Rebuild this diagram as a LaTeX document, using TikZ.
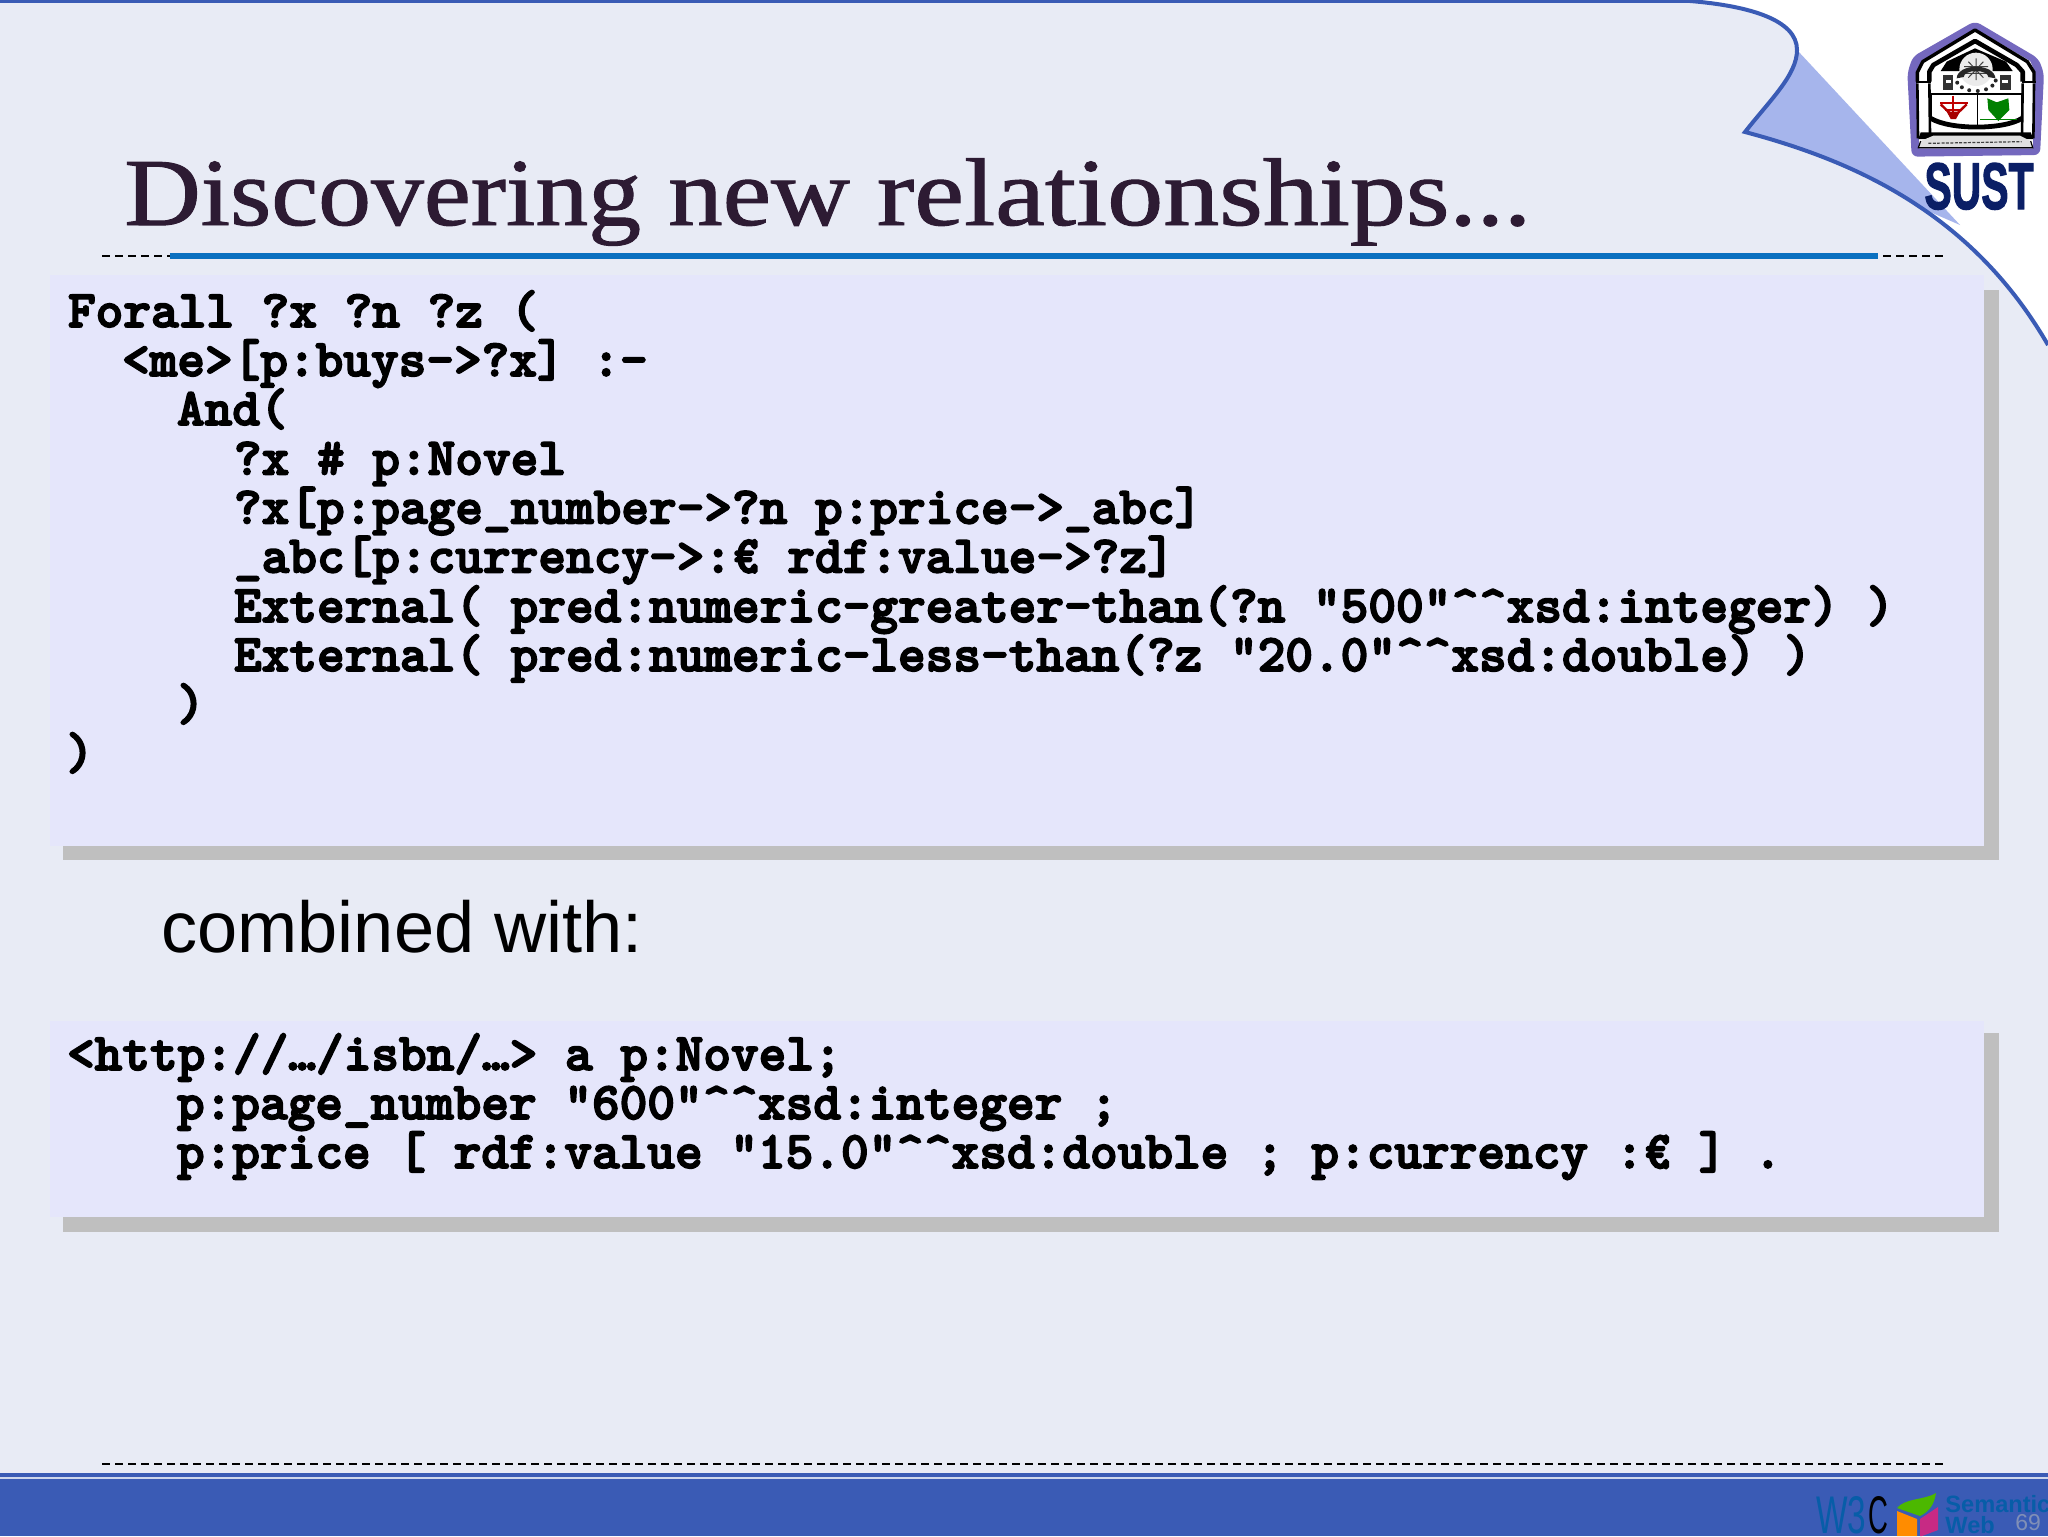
\documentclass[tikz,border=0pt]{standalone}
\usepackage{fontspec}
\setmainfont{Liberation Serif}
\newfontfamily\titlef[FakeBold=1]{Liberation Serif}
\newfontfamily\arialf{Liberation Sans}
\newfontfamily\sustf[FakeBold=2]{Liberation Sans Bold}
\newfontfamily\codef[BoldFeatures={FakeBold=3.2}]{Latin Modern Mono Light}
\usetikzlibrary{calc}
\definecolor{pagebg}{HTML}{E8EBF5}
\definecolor{boxbg}{HTML}{E5E6FB}
\definecolor{shadowg}{HTML}{BFBFBF}
\definecolor{flap}{HTML}{A6B5EC}
\definecolor{barblue}{HTML}{3A5BB5}
\definecolor{rule}{HTML}{0A70C0}
\definecolor{titlec}{HTML}{2D1B33}
\definecolor{navy}{HTML}{0B1F66}
\definecolor{lpurple}{HTML}{7468BE}
\definecolor{wblue}{HTML}{075DA8}
\tikzset{
  codeline/.style={anchor=base west,inner sep=0pt,outer sep=0pt,font=\codef\bfseries\fontsize{26.35}{30}\selectfont,text=black},
  boxfill/.style={fill=boxbg,draw=none},
  shadowfill/.style={fill=shadowg,draw=none},
  dashrule/.style={draw=black,line width=0.7pt,dash pattern=on 4pt off 2.5pt}
}
\newcommand{\cc}{\textasciicircum\textasciicircum}
\begin{document}
\begin{tikzpicture}[x=0.5pt,y=-0.5pt]
\useasboundingbox (0,0) rectangle (2048,1536);
\fill[white] (0,0) rectangle (2048,1536);
% flap
\fill[flap] (1797,50) -- (1960,225) -- (1745,132) -- cycle;
% logo (coordinates are those of a 3x crop)
\begin{scope}[shift={(1900,15)},x=0.16667pt,y=-0.16667pt]
  \fill[lpurple,rounded corners=3pt] (225,18) -- (415,130) -- (432,175) -- (420,420) -- (35,425) -- (22,175) -- (38,125) -- cycle;
  \fill[white] (225,42) -- (390,138) -- (405,172) -- (398,400) -- (58,400) -- (50,172) -- (65,138) -- cycle;
  % arches
  \draw[black,line width=1.7pt,line join=round] (52,200) -- (52,172) -- (68,140) -- (225,45) -- (382,140) -- (402,172) -- (402,200);
  \draw[black,line width=2.3pt,line join=round] (88,200) -- (88,170) -- (100,150) -- (225,78) -- (350,150) -- (368,170) -- (368,200);
  \fill[black] (122,168) -- (140,140) -- (225,100) -- (318,140) -- (338,168) -- cycle;
  % columns
  \fill[black] (47,197) rectangle (92,205);
  \fill[black] (365,197) rectangle (407,205);
  \draw[black,line width=1.3pt] (52,205) -- (54,370) (88,205) -- (90,360) (368,205) -- (366,360) (402,205) -- (400,370);
  % dome
  \fill[white!92!black] (228,163) circle (50);
  \draw[black!75,line width=0.5pt] (192,155) -- (264,155) (188,165) -- (268,165) (195,175) -- (260,175) (228,130) -- (228,195) (205,140) -- (250,188) (250,140) -- (205,188);
  % gear
  \fill[black!85] (170,190) arc (180:360:58 and 35) -- (265,186) arc (0:-180:37 and 18) -- cycle;
  \foreach \ga in {200,225,250,275,300,325,350}
    \fill[black!85] ({228+60*cos(\ga+0)},{190-38*sin(\ga)}) circle (6);
  % towers
  \fill[black!80] (130,180) rectangle (160,226);
  \fill[black!80] (300,180) rectangle (332,226);
  \fill[white] (137,195) rectangle (153,205);
  \fill[white] (307,195) rectangle (325,205);
  % panels
  \draw[black,line width=1pt] (92,236) -- (368,236);
  \draw[black,line width=0.8pt] (232,236) -- (232,335);
  \draw[black,line width=2.4pt] (92,310) .. controls (150,345) and (310,345) .. (366,310);
  \draw[black,line width=0.8pt] (92,236) -- (92,310) (366,236) -- (366,310);
  % red emblem
  \draw[red!75!black,line width=0.9pt] (160,242) -- (160,312) (120,265) -- (205,265) (135,285) -- (185,285);
  \fill[red!65!black] (140,290) -- (180,290) -- (168,312) -- (152,312) -- cycle;
  \draw[red!70!black,line width=1.2pt] (122,268) -- (150,295) (200,268) -- (172,295);
  % green emblem
  \fill[green!50!black] (262,250) -- (290,262) -- (325,250) -- (328,285) -- (295,318) -- (265,285) -- cycle;
  \draw[green!50!black,line width=0.8pt] (240,314) -- (350,314);
  % banner
  \fill[black] (62,352) -- (392,352) -- (400,372) -- (55,372) -- cycle;
  \fill[black!12] (62,378) -- (100,362) -- (360,362) -- (392,378) -- (398,398) -- (55,398) -- cycle;
  \draw[black,line width=0.6pt] (62,378) -- (55,398) -- (398,398) -- (392,378);
  \draw[black!75,line width=0.6pt,dash pattern=on 1.5pt off 0.7pt] (85,385) -- (365,380);
\end{scope}
\node[anchor=base,inner sep=0pt,text=navy,font=\sustf\fontsize{33}{33}\selectfont,xscale=0.62] (sust) at (1979,209) {SUST};
% page background with curled corner
\fill[pagebg] (0,0) -- (1690,0) .. controls (1750,6) and (1797,20) .. (1797,50)
  .. controls (1797,75) and (1770,100) .. (1745,132)
  .. controls (1850,160) and (1970,210) .. (2048,345) -- (2048,1536) -- (0,1536) -- cycle;
\draw[barblue,line width=2pt] (0,1) -- (1690,1) .. controls (1750,6) and (1797,20) .. (1797,50)
  .. controls (1797,75) and (1770,100) .. (1745,132)
  .. controls (1850,160) and (1970,210) .. (2048,345);
% title
\node[anchor=base west,inner sep=0pt,text=titlec,font=\titlef\fontsize{48}{60}\selectfont,xscale=1.135] (title) at (124,225) {\scalebox{.97}[1]{Discovering} new \scalebox{1.028}[1]{relationships}...};
% rules
\coordinate (rl) at (102,256); \coordinate (rr) at (1943,256);
\draw[dashrule] (rl) -- (rr);
\fill[rule] (170,253) rectangle (1878,259);
\coordinate (bl) at (102,1464); \coordinate (br) at (1943,1464);
\draw[dashrule] (bl) -- (br);
% box 1
\fill[shadowfill] (63,290) rectangle (1999,860);
\fill[boxfill] (50,275) rectangle (1984,846);
% box 2
\fill[shadowfill] (63,1033) rectangle (1999,1232);
\fill[boxfill] (50,1021) rectangle (1984,1217);
% code 1
\node[codeline] (a1) at (68,327) {Forall ?x ?n ?z (};
\node[codeline] (a2) at (122,376) {<me>[p:buys->?x] :-};
\node[codeline] (a3) at (177,425) {And(};
\node[codeline] (a4) at (234,474.5) {?x \# p:Novel};
\node[codeline] (a5) at (234,523.5) {?x[p:page\_number->?n p:price->\_abc]};
\node[codeline] (a6) at (234,572.5) {\_abc[p:currency->:€ rdf:value->?z]};
\node[codeline] (a7) at (234,622) {External( pred:numeric-greater-than(?n "500"\cc xsd:integer) )};
\node[codeline] (a8) at (234,671) {External( pred:numeric-less-than(?z "20.0"\cc xsd:double) )};
\node[codeline] (a9) at (177,720) {)};
\node[codeline] (a10) at (66,769) {)};
% combined
\node[anchor=base west,inner sep=0pt,text=black,font=\arialf\fontsize{36.1}{40}\selectfont] (comb) at (161,952) {combined with:};
% code 2
\node[codeline] (b1) at (67,1070) {<http://…/isbn/…> a p:Novel;};
\node[codeline] (b2) at (177,1119) {p:page\_number "600"\cc xsd:integer ;};
\node[codeline] (b3) at (177,1168) {p:price [ rdf:value "15.0"\cc xsd:double ; p:currency :€ ] .};
% footer
\fill[barblue] (0,1473) rectangle (2048,1477);
\fill[white!75!barblue] (0,1477) rectangle (2048,1479);
\fill[barblue] (0,1479) rectangle (2048,1536);
% W3C logo
\begin{scope}
\clip (0,1479) rectangle (2048,1536);
\node[anchor=base west,inner sep=0pt,text=wblue,font=\arialf\fontsize{26.5}{27}\selectfont,xscale=0.63] (wth) at (1816,1533) {W3};
\node[anchor=base west,inner sep=0pt,text=black,font=\arialf\fontsize{26.5}{27}\selectfont,xscale=0.52] (cee) at (1868,1533) {C};
\fill[green!60!black!70!yellow] (1897,1508) .. controls (1905,1498) and (1925,1500) .. (1936,1493) .. controls (1934,1506) and (1928,1512) .. (1920,1516) -- cycle;
\fill[orange!90!yellow] (1897,1511) -- (1917,1519) -- (1917,1536) -- (1897,1536) -- cycle;
\fill[magenta!80!black] (1920,1519) -- (1938,1507) -- (1938,1530) -- (1922,1536) -- (1920,1536) -- cycle;
\node[anchor=base west,inner sep=0pt,text=wblue,font=\arialf\bfseries\fontsize{11.8}{12}\selectfont] (sem) at (1945,1512) {Semantic};
\node[anchor=base west,inner sep=0pt,text=wblue,font=\arialf\bfseries\fontsize{11.8}{12}\selectfont] (web) at (1945,1533) {Web};
\end{scope}
\node[anchor=base west,inner sep=0pt,text=black!25!barblue!60!white,font=\arialf\fontsize{11.5}{12}\selectfont] (pg) at (2015,1530) {69};
\end{tikzpicture}
\end{document}
